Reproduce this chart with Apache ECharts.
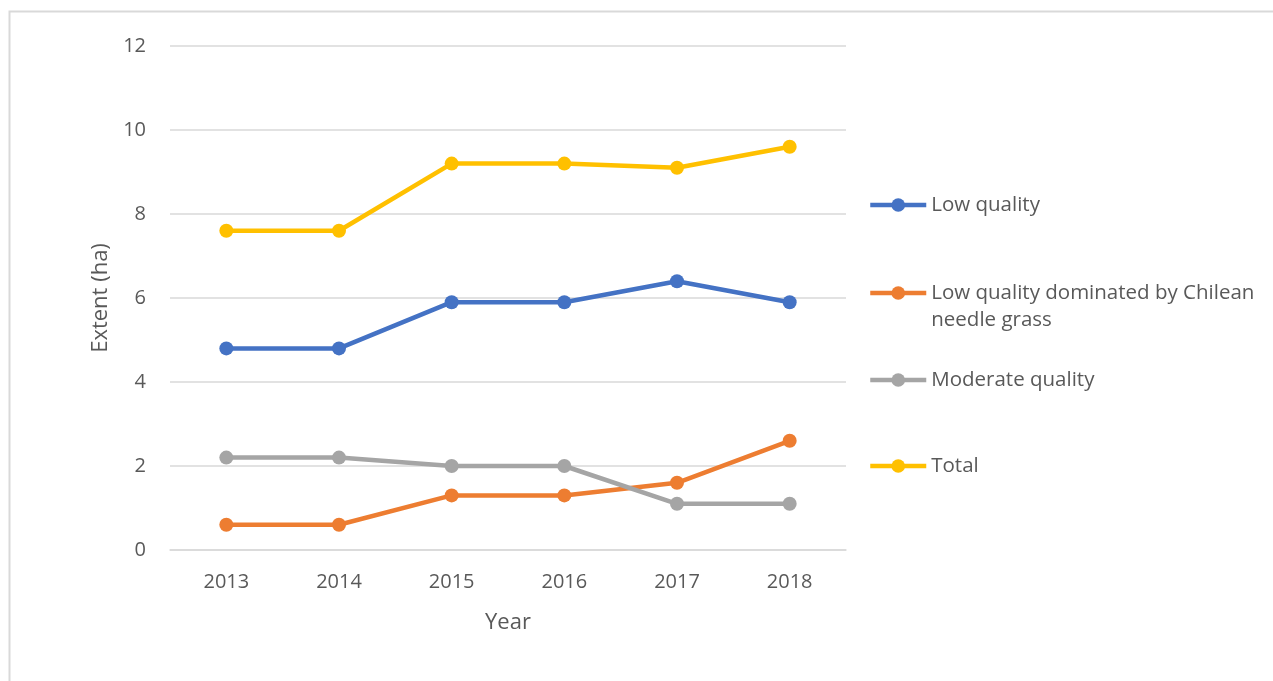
<!DOCTYPE html>
<html>
<head>
<meta charset="utf-8">
<script src="https://cdn.jsdelivr.net/npm/echarts@6/dist/echarts.min.js"></script>
<style>
html,body{margin:0;padding:0;background:#fff;}
#c{width:1273px;height:681px;}
</style>
</head>
<body>
<div id="c"></div>
<script>
var years = ['2013','2014','2015','2016','2017','2018'];
var lowQuality = [4.8, 4.8, 5.9, 5.9, 6.4, 5.9];
var lowChilean = [0.6, 0.6, 1.3, 1.3, 1.6, 2.6];
var moderate = [2.2, 2.2, 2.0, 2.0, 1.1, 1.1];
var total = [7.6, 7.6, 9.2, 9.2, 9.1, 9.6];
var names = ['Low quality', 'Low quality dominated by Chilean\nneedle grass', 'Moderate quality', 'Total'];
var colors = ['#4472C4', '#ED7D31', '#A5A5A5', '#FFC000'];
var seriesData = [lowQuality, lowChilean, moderate, total];

var FONT = '"Open Sans", "Liberation Sans", sans-serif';
var txtColor = '#595959';

function mkSeries(i) {
  return {
    name: names[i], type: 'line', data: seriesData[i],
    symbol: 'circle', symbolSize: 14,
    lineStyle: {width: 4.5, color: colors[i]},
    itemStyle: {color: colors[i]},
    animation: false, z: 2 + i
  };
}
var legendCenters = [205, 293, 380, 466];
var legends = names.map(function (n, i) {
  var multi = n.indexOf('\n') >= 0;
  return {
    data: [n], left: 868, top: legendCenters[i] - (multi ? 40.5 : 13.5), padding: 0,
    itemWidth: 56, itemHeight: 17, itemGap: 4,
    lineStyle: {width: 4.5},
    textStyle: {color: txtColor, fontSize: 20.5, fontFamily: FONT, lineHeight: 27},
    formatter: multi ? function (name) { return '\n' + name; } : '{name}',
    selectedMode: false
  };
});

var chart = echarts.init(document.getElementById('c'), null, {renderer: 'canvas'});
chart.setOption({
  backgroundColor: '#fff',
  animation: false,
  graphic: [{
    type: 'rect', shape: {x: 9.5, y: 11.5, width: 1300, height: 700},
    style: {fill: 'none', stroke: '#d9d9d9', lineWidth: 2}, silent: true, z: -1
  }],
  grid: {left: 170, right: 427, top: 46, bottom: 131},
  legend: legends,
  xAxis: {
    type: 'category', data: years, boundaryGap: true,
    name: 'Year', nameLocation: 'middle', nameGap: 62,
    nameTextStyle: {color: txtColor, fontSize: 22, fontFamily: FONT},
    axisLine: {lineStyle: {color: '#d9d9d9', width: 1.5}},
    axisTick: {show: false},
    axisLabel: {color: txtColor, fontSize: 20, fontFamily: FONT, margin: 22}
  },
  yAxis: {
    type: 'value', min: 0, max: 12, interval: 2,
    name: 'Extent (ha)', nameLocation: 'middle', nameGap: 58, nameRotate: 90,
    nameTextStyle: {color: txtColor, fontSize: 22, fontFamily: FONT},
    axisLine: {show: false}, axisTick: {show: false},
    splitLine: {lineStyle: {color: '#d9d9d9', width: 1.5}},
    axisLabel: {color: txtColor, fontSize: 20, fontFamily: FONT, margin: 24}
  },
  series: [mkSeries(0), mkSeries(1), mkSeries(2), mkSeries(3)]
});
</script>
</body>
</html>
